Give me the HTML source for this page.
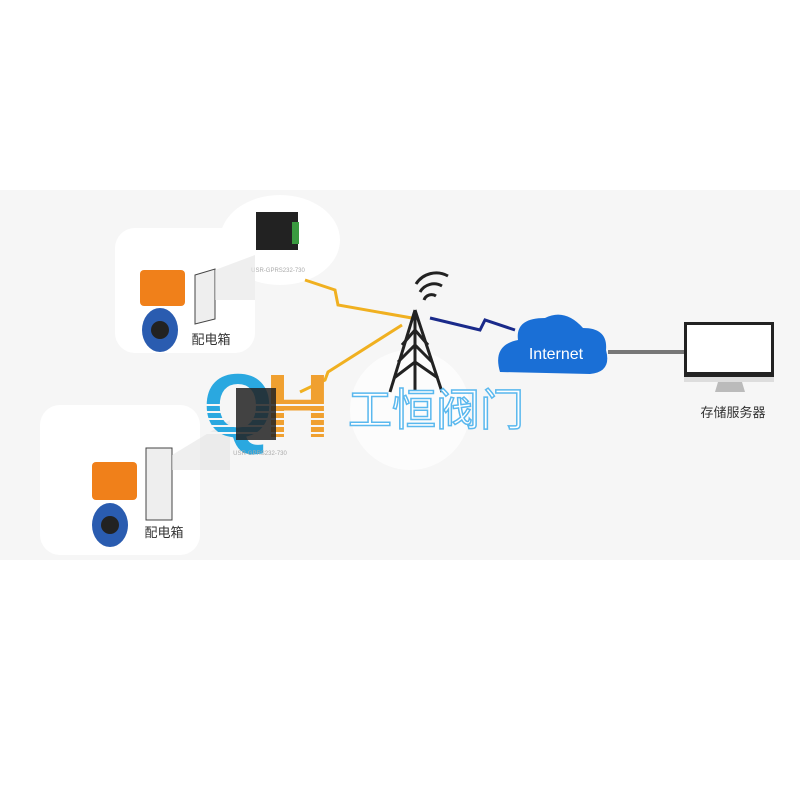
<!DOCTYPE html>
<html><head><meta charset="utf-8"><style>
body{margin:0;background:#fff;}
svg{display:block}
text{font-family:"Liberation Sans","Noto Sans CJK SC",sans-serif}
</style></head><body>
<svg width="800" height="800" viewBox="0 0 800 800">
<rect width="800" height="800" fill="#fff"/>
<rect x="0" y="190" width="800" height="370" fill="#f6f6f6"/>
<rect x="115" y="228" width="140" height="125" rx="20" fill="#fff"/>
<rect x="40" y="405" width="160" height="150" rx="20" fill="#fff"/>
<ellipse cx="280" cy="240" rx="60" ry="45" fill="#fff"/>
<ellipse cx="410" cy="410" rx="60" ry="60" fill="#fcfcfc"/>
<!-- lightning yellow -->
<polyline points="305,280 335,290 338,305 412,318" fill="none" stroke="#f0b020" stroke-width="3"/>
<polyline points="300,392 325,380 328,372 402,325" fill="none" stroke="#f0b020" stroke-width="3"/>
<!-- blue lightning -->
<polyline points="430,318 480,330 485,320 515,330" fill="none" stroke="#1a2a8a" stroke-width="3"/>
<!-- tower -->
<g stroke="#222" stroke-width="3" fill="none">
<line x1="415" y1="310" x2="390" y2="392"/><line x1="415" y1="310" x2="442" y2="392"/>
<line x1="415" y1="310" x2="415" y2="392"/>
<polyline points="402,345 415,330 428,345"/><polyline points="398,362 415,345 432,362"/><polyline points="394,378 415,362 438,378"/>
<path d="M424 300 a8 8 0 0 1 12 -4" /><path d="M420 292 a16 16 0 0 1 22 -6"/><path d="M416 284 a24 24 0 0 1 32 -8"/>
</g>
<!-- cloud -->
<path d="M500 372 Q492 345 518 340 Q515 318 545 318 Q565 308 583 328 Q608 328 606 350 Q612 372 590 374 Z" fill="#1a6fd6"/>
<text x="556" y="359" font-size="16" fill="#fff" text-anchor="middle">Internet</text>
<rect x="608" y="350" width="78" height="4" fill="#777"/>
<!-- monitor -->
<rect x="684" y="322" width="90" height="55" fill="#222"/>
<rect x="687" y="325" width="84" height="47" fill="#fff"/>
<rect x="684" y="377" width="90" height="5" fill="#ddd"/>
<path d="M718 382 h24 l3 10 h-30 z" fill="#bbb"/>
<text x="733" y="417" font-size="13" fill="#333" text-anchor="middle">存储服务器</text>
<!-- device 1 -->
<rect x="256" y="212" width="42" height="38" fill="#222"/>
<rect x="292" y="222" width="7" height="22" fill="#3a9a40"/>
<text x="278" y="272" font-size="6" fill="#aaa" text-anchor="middle">USR-GPRS232-730</text>
<!-- valve 1 -->
<rect x="140" y="270" width="45" height="36" rx="4" fill="#f0801a"/>
<ellipse cx="160" cy="330" rx="18" ry="22" fill="#2a5cb0"/>
<circle cx="160" cy="330" r="9" fill="#222"/>
<path d="M195 275 l20 -6 v50 l-20 5z" fill="#eee" stroke="#444"/>
<path d="M215 270 L255 255 L255 300 L215 300z" fill="#e4e4e4" opacity=".6"/>
<text x="211" y="344" font-size="13" fill="#333" text-anchor="middle">配电箱</text>
<!-- valve 2 -->
<rect x="92" y="462" width="45" height="38" rx="4" fill="#f0801a"/>
<ellipse cx="110" cy="525" rx="18" ry="22" fill="#2a5cb0"/>
<circle cx="110" cy="525" r="9" fill="#222"/>
<rect x="146" y="448" width="26" height="72" fill="#eee" stroke="#444"/>
<path d="M172 455 L230 420 L230 470 L172 470z" fill="#e4e4e4" opacity=".6"/>
<text x="164" y="537" font-size="13" fill="#333" text-anchor="middle">配电箱</text>
<!-- QH logo -->
<text x="203" y="437" font-size="90" font-weight="bold" fill="#2aa8e0">Q</text>
<text x="265" y="437" font-size="90" font-weight="bold" fill="#f0a030">H</text>
<g stroke="#f6f6f6" stroke-width="2">
<line x1="200" y1="405" x2="335" y2="405"/><line x1="200" y1="412" x2="335" y2="412"/><line x1="200" y1="419" x2="335" y2="419"/><line x1="200" y1="426" x2="335" y2="426"/><line x1="200" y1="433" x2="335" y2="433"/>
</g>
<rect x="236" y="388" width="40" height="52" fill="#222" opacity=".85"/>
<text x="260" y="455" font-size="6" fill="#aaa" text-anchor="middle">USR-GPRS232-730</text>
<text x="348" y="425" font-size="44" fill="#fff" stroke="#5ab8ee" stroke-width="1.5" font-family="Noto Sans CJK SC,sans-serif">工恒阀门</text>
</svg>
</body></html>
